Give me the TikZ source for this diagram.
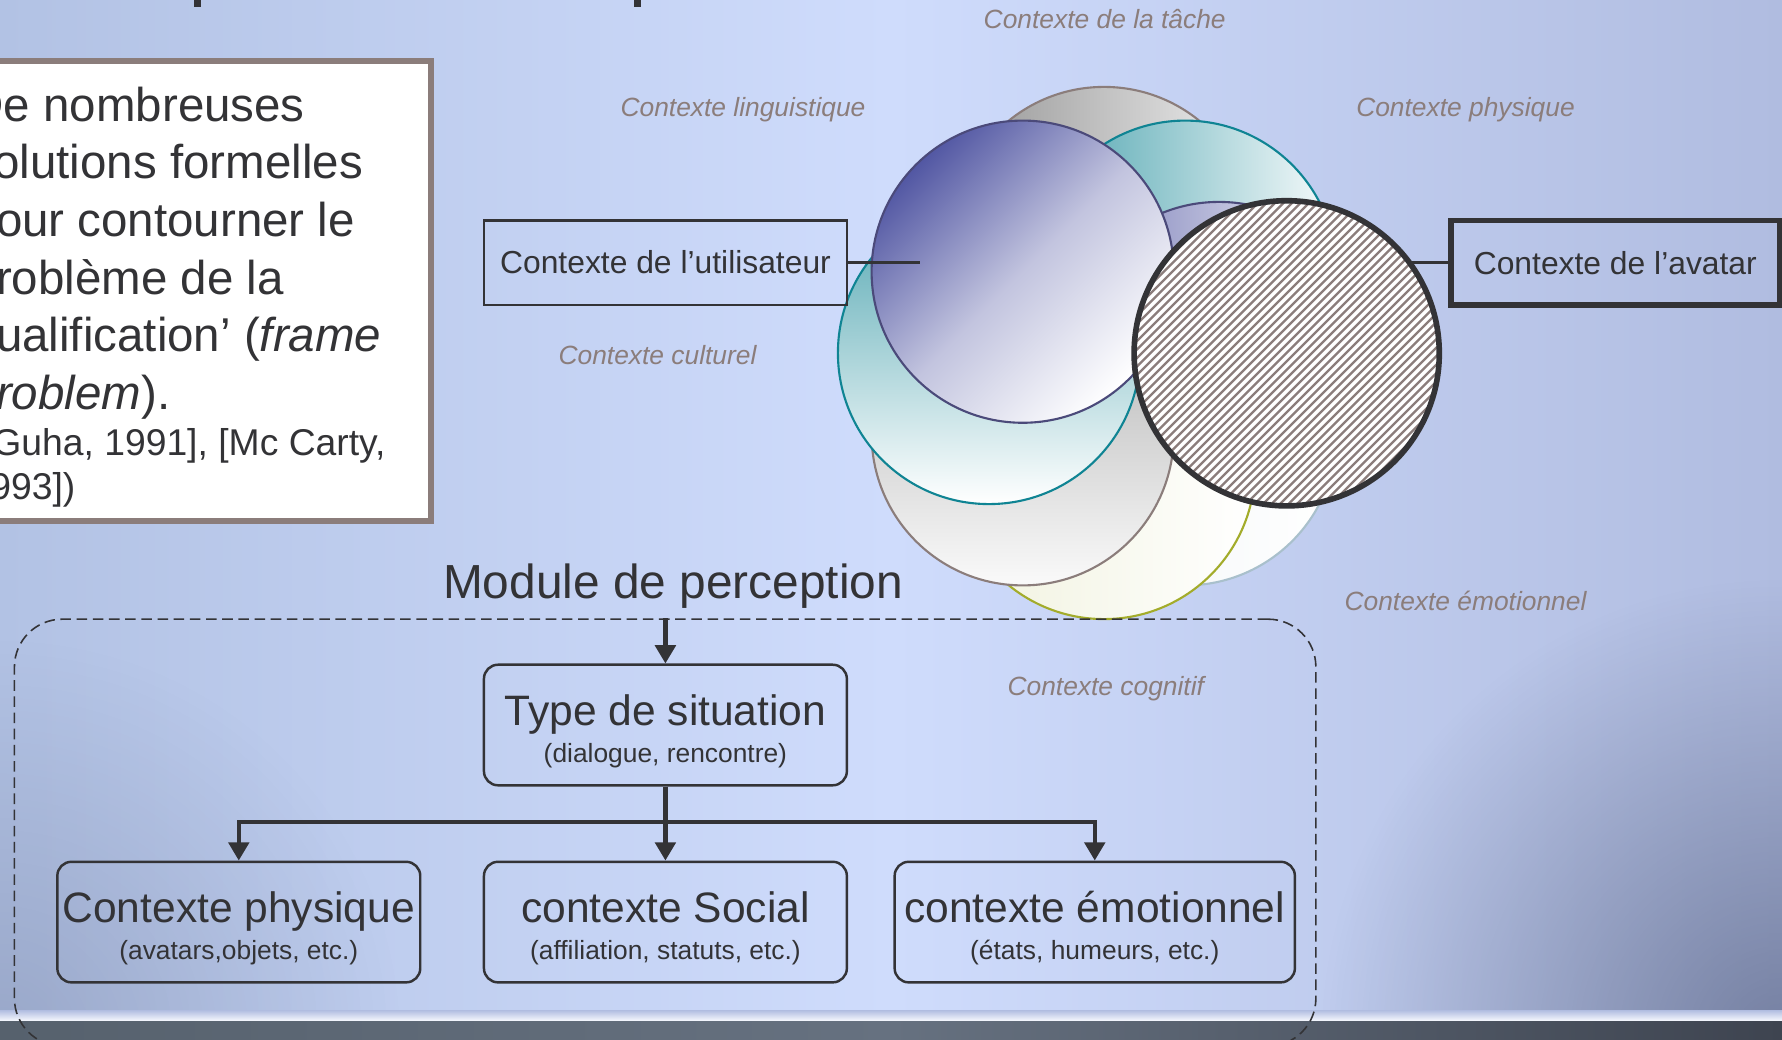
\documentclass[tikz,border=0pt]{standalone}
\usepackage{fontspec}
\setmainfont{Liberation Sans}
\usetikzlibrary{calc,positioning,arrows.meta,fadings}

\definecolor{encre}{HTML}{333336}
\definecolor{taupe}{HTML}{8B7D7B}
\definecolor{fondG}{HTML}{B2C2E4}
\definecolor{fondM}{HTML}{CFDCFC}
\definecolor{fondD}{HTML}{B0BCE0}
\definecolor{fondS}{HTML}{4E5878}
\definecolor{bandeG}{HTML}{56616D}
\definecolor{bandeM}{HTML}{667180}
\definecolor{bandeD}{HTML}{3E4450}
\definecolor{sarcelle}{HTML}{0F8493}
\definecolor{violet}{HTML}{4B4A7A}
\definecolor{indigo}{HTML}{5257A3}
\definecolor{olive}{HTML}{A3AC2B}
\definecolor{ciel}{HTML}{A9C0CC}

\tikzfading[name=coin, inner color=transparent!0, outer color=transparent!100]

\begin{document}
\begin{tikzpicture}[x=0.01cm, y=-0.01cm,
ctx/.style={font=\fontsize{7.5}{9}\selectfont\itshape, text=taupe, inner sep=0pt},
etiq/.style={draw=encre, minimum height=0.845cm, inner sep=0pt, text=encre,
	font=\fontsize{9.05}{11}\selectfont},
boite/.style={draw=encre, line width=0.7pt, rounded corners=4pt,
	minimum width=3.627cm, minimum height=1.205cm, inner sep=0pt,
	align=center, text=encre, font=\fontsize{12.1}{14}\selectfont},
fleche/.style={draw=encre, line width=1.2pt, -{Triangle[length=5.2pt,width=5.8pt]}},
lien/.style={draw=encre, line width=0.7pt},
disque/.style={line width=0.6pt}
]
% fond
\useasboundingbox (0,0) rectangle (1782,1040);
\clip (0,0) rectangle (1782,1040);
\shade[left color=fondG, right color=fondD, middle color=fondM] (0,0) rectangle (1782,1040);
\fill[fondS, path fading=coin, fill opacity=0.6] (1782,1040) circle[radius=4.6cm];
\fill[fondS, path fading=coin, fill opacity=0.25] (0,1040) circle[radius=4cm];
\shade[top color=fondD, bottom color=white!85!fondM] (0,1010) rectangle (1782,1021);
\shade[left color=bandeG, right color=bandeD, middle color=bandeM] (0,1021) rectangle (1782,1040);
\fill[encre] (194,0) rectangle (201,7);
\fill[encre] (634,0) rectangle (641,7);

% cadre de gauche
\node[draw=taupe, fill=white, line width=1.7pt, minimum width=4.71cm,
	minimum height=4.595cm] (cadre) at (195.5,291.25) {};
\node[anchor=north west, align=left, inner sep=0pt, text=encre,
	font=\fontsize{13.5}{16.4}\selectfont] (arguments) at (-31,86)
	{De nombreuses\\ solutions formelles\\ pour contourner le\\ problème de la\\
	qualification’ (\textit{frame}\\ \textit{problem}).\\[-3.4pt]
	{\fontsize{10.6}{12}\selectfont ([Guha, 1991], [Mc Carty,}\\[-3.9pt]
	{\fontsize{10.6}{12}\selectfont 1993])}};

% rosace des contextes
\coordinate (centre) at (1104,353);
\foreach \n/\a in {1/-90,2/-45,3/0,4/45,5/90,6/135,7/180,8/225}
	\coordinate (c\n) at ($(centre)+(\a:115)$);
\shadedraw[disque, draw=taupe, left color=black!42, right color=black!6] (c1) circle[radius=1.51cm];
\shadedraw[disque, draw=sarcelle, left color=sarcelle!75!white, right color=sarcelle!3!white] (c2) circle[radius=1.51cm];
\shadedraw[disque, draw=violet, left color=indigo!80!white, right color=white] (c3) circle[radius=1.51cm];
\shadedraw[disque, draw=ciel, left color=ciel!18!white, right color=white] (c4) circle[radius=1.51cm];
\shadedraw[disque, draw=olive, left color=olive!16!white, right color=white] (c5) circle[radius=1.51cm];
\shadedraw[disque, draw=taupe, top color=black!32, bottom color=black!2] (c6) circle[radius=1.51cm];
\shadedraw[disque, draw=sarcelle, top color=sarcelle!72!white, bottom color=white] (c7) circle[radius=1.51cm];
\shadedraw[disque, draw=violet, top color=indigo, bottom color=white,
	middle color=indigo!35!white, shading angle=45] (c8) circle[radius=1.51cm];

% utilisateur et avatar
\coordinate (bout) at (920,262.6);
\node[etiq, line width=0.7pt, minimum width=3.63cm] (utilisateur) at (665.5,262.6)
	{Contexte de l’utilisateur};
\draw[lien] (utilisateur) -- (bout);
\coordinate (av) at (1286.7,353.3);
\node[etiq, line width=1.6pt, minimum width=3.283cm] (avatarb) at (1615.3,262.7)
	{Contexte de l’avatar};
\draw[lien] (avatarb) -- (avatarb.west -| av);
\node[circle, fill=white, minimum size=3.05cm, inner sep=0pt] (avatar) at (av) {};
\begin{scope}
	\clip (av) circle[radius=1.52cm];
	\foreach \c in {1410,1418.5,...,1870}
		\draw[taupe, line width=0.65pt] (\c-560,560) -- (\c-150,150);
\end{scope}
\draw[encre, line width=1.6pt] (av) circle[radius=1.525cm];

% etiquettes des contextes
\node[ctx] (tache) at (1104.7,19.3) {Contexte de la tâche};
\node[ctx] (linguistique) at (743,109.5) {Contexte linguistique};
\node[ctx] (physiqueC) at (1465.5,109.5) {Contexte physique};
\node[ctx] (culturel) at (657.5,355) {Contexte culturel};
\node[ctx] (emotionnelC) at (1465.5,601) {Contexte émotionnel};
\node[ctx] (cognitif) at (1105.8,689) {Contexte cognitif};

% module de perception
\node[text=encre, inner sep=0pt, font=\fontsize{13.6}{16}\selectfont] (titre) at (673,586.5)
	{Module de perception};
\node[draw=encre, line width=0.45pt, dash pattern=on 3pt off 1.6pt, rounded corners=13.6pt,
	minimum width=13.007cm, minimum height=4.267cm] (module) at (665.15,832.65) {};
\node[boite] (situation) at (665.4,725)
	{\rule{0pt}{12.4pt}Type de situation\\[-3.6pt]{\fontsize{7.5}{9}\selectfont (dialogue, rencontre)}};
\node[boite, below=0.74cm of situation] (social)
	{\rule{0pt}{12.4pt}contexte Social\\[-3.6pt]{\fontsize{7.5}{9}\selectfont (affiliation, statuts, etc.)}};
\node[boite, left=0.612cm of social] (physique)
	{\rule{0pt}{12.4pt}Contexte physique\\[-3.6pt]{\fontsize{7.5}{9}\selectfont (avatars,objets, etc.)}};
\node[boite, right=0.453cm of social, minimum width=4cm] (emotionnel)
	{\rule{0pt}{12.4pt}contexte émotionnel\\[-3.6pt]{\fontsize{7.5}{9}\selectfont (états, humeurs, etc.)}};
\draw[fleche] (module.north -| situation.north) -- (situation.north);
\draw[fleche] (situation.south) -- (social.north);
\draw[fleche] (situation.south) -- ++(0,35.5) -| (physique.north);
\draw[fleche] (situation.south) -- ++(0,35.5) -| (emotionnel.north);
\end{tikzpicture}
\end{document}
